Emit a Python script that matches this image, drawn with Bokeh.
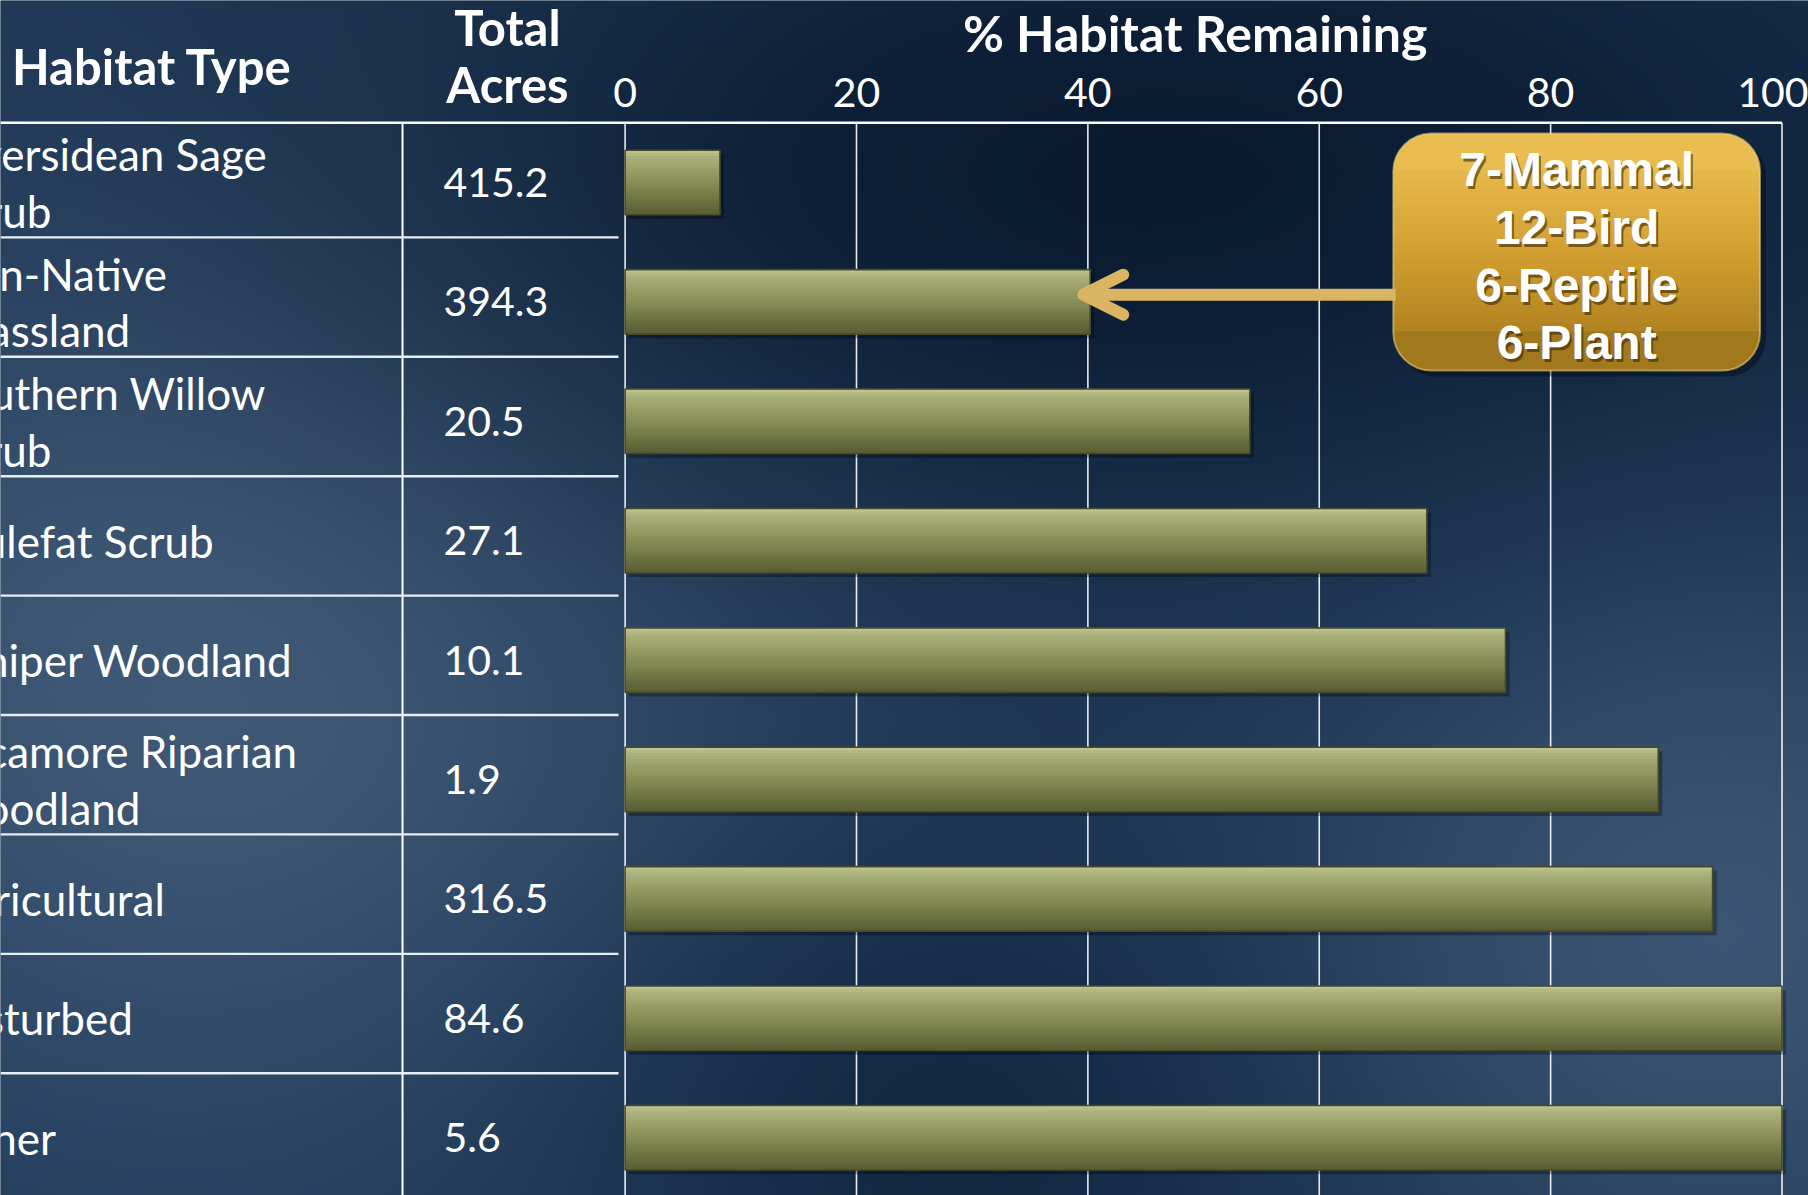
import numpy as np
from bokeh.plotting import figure
from bokeh.models import (ColumnDataSource, Range1d, FixedTicker, BoxAnnotation,
                          Label, Arrow, OpenHead)
from bokeh.core.properties import value
from bokeh.embed import file_html
from bokeh.resources import INLINE

# ---------------- data ----------------
habitats = ["Riversidean Sage\nScrub", "Non-Native\nGrassland", "Southern Willow\nScrub",
            "Mulefat Scrub", "Juniper Woodland", "Sycamore Riparian\nWoodland",
            "Agricultural", "Disturbed", "Other"]
total_acres = [415.2, 394.3, 20.5, 27.1, 10.1, 1.9, 316.5, 84.6, 5.6]
pct_remaining = [8.2, 40.2, 54.0, 69.3, 76.1, 89.3, 94.0, 100.0, 100.0]
x_ticks = [0, 20, 40, 60, 80, 100]
callout_lines = ["7-Mammal", "12-Bird", "6-Reptile", "6-Plant"]
header_habitat = "Habitat Type"
header_acres = ["Total", "Acres"]
axis_title = "% Habitat Remaining"

# ---------------- layout constants ----------------
W, H = 1808, 1195
X0, X1 = -53.99, 102.29
Y0, Y1 = -0.484, 9.524
TOP = 8.5                      # top rule of table / chart
BAR_H = 0.54
BODY_FONT = "Lato"
WHITE = "#ffffff"

n = len(habitats)
ypos = [n - 1 - i for i in range(n)]

p = figure(width=W, height=H, x_range=Range1d(X0, X1), y_range=Range1d(Y0, Y1),
           output_backend="svg", toolbar_location=None,
           x_axis_location="above", y_axis_location=None,
           min_border_left=0, min_border_right=0, min_border_top=0, min_border_bottom=0)
p.outline_line_color = None
p.background_fill_color = "#1b3554"
p.border_fill_color = "#0e223b"
p.xgrid.visible = False
p.ygrid.visible = False

ax = p.xaxis[0]
ax.fixed_location = TOP
ax.ticker = FixedTicker(ticks=x_ticks)
ax.axis_line_color = None
ax.major_tick_line_color = None
ax.minor_tick_line_color = None
ax.major_label_text_color = WHITE
ax.major_label_text_font = BODY_FONT
ax.major_label_text_font_size = "41px"
ax.major_label_standoff = 10

# ---------------- background texture ----------------
GW, GH = 603, 399
xs_ref = (np.arange(GW) + 0.5) * (W / GW)
ys_ref = H - (np.arange(GH) + 0.5) * (H / GH)
XX, YY = np.meshgrid(xs_ref, ys_ref)
col = np.zeros((GH, GW, 3))
col[:] = (27, 53, 84)
blobs = [
    (230, 640, 420, 380, (72, 98, 128), 0.85),
    (1150, 180, 600, 260, (8, 24, 45), 0.9),
    (980, 1120, 280, 200, (12, 33, 58), 0.7),
    (1720, 930, 300, 260, (66, 92, 122), 0.8),
]
for bx, by, sx, sy, c, s in blobs:
    w = s * np.exp(-0.5 * ((XX - bx) / sx) ** 2 - 0.5 * ((YY - by) / sy) ** 2)
    col = col * (1 - w[..., None]) + np.array(c) * w[..., None]
img = np.zeros((GH, GW), dtype=np.uint32)
view = img.view(dtype=np.uint8).reshape((GH, GW, 4))
view[..., :3] = np.clip(col, 0, 255).astype(np.uint8)
view[..., 3] = 255
p.image_rgba(image=[img], x=X0, y=Y0, dw=X1 - X0, dh=Y1 - Y0)

# ---------------- grid & table rules ----------------
p.segment(x0=x_ticks, y0=[TOP] * len(x_ticks), x1=x_ticks, y1=[Y0] * len(x_ticks),
          line_color=WHITE, line_width=1.6, line_alpha=0.9)
p.segment(x0=[X0], y0=[TOP], x1=[100], y1=[TOP], line_color=WHITE, line_width=2.6)
p.segment(x0=[-19.24], y0=[TOP], x1=[-19.24], y1=[Y0], line_color=WHITE, line_width=2)
rule_y = [ypos[i] - 0.46 for i in range(n - 1)]
p.segment(x0=[X0] * len(rule_y), y0=rule_y, x1=[-0.57] * len(rule_y), y1=rule_y,
          line_color="#e8eef5", line_width=2.4)

# ---------------- bars ----------------


def lerp_stops(stops, f):
    for (f0, c0), (f1, c1) in zip(stops[:-1], stops[1:]):
        if f0 <= f <= f1:
            t = (f - f0) / (f1 - f0)
            return "#%02x%02x%02x" % tuple(int(round(a + (b - a) * t)) for a, b in zip(c0, c1))
    return "#%02x%02x%02x" % stops[-1][1]


def bar_source(dy, dx=0.0):
    return ColumnDataSource(dict(y=[v + dy for v in ypos],
                                 right=[v + dx for v in pct_remaining]))


p.hbar(y="y", left=0.3, right="right", height=BAR_H, source=bar_source(-0.035, 0.35),
       fill_color="#000000", fill_alpha=0.3, line_color=None)

bar_stops = [(0.0, (194, 200, 146)), (0.1, (172, 178, 124)), (0.35, (148, 154, 98)),
             (0.6, (126, 132, 78)), (0.82, (104, 110, 62)), (1.0, (88, 93, 51))]
NB = 22
band_h = BAR_H / NB
for k in range(NB):
    top_edge = BAR_H / 2 - k * band_h
    hb = band_h * 1.6 if k < NB - 1 else band_h
    p.hbar(y="y", left=0, right="right", height=hb,
           source=bar_source(top_edge - hb / 2),
           fill_color=lerp_stops(bar_stops, (k + 0.5) / NB), line_color=None)
p.hbar(y="y", left=0, right="right", height=BAR_H, source=bar_source(0.0),
       fill_color=None, line_color="#464a29", line_width=1.6)

# ---------------- table texts ----------------
src = ColumnDataSource(dict(y=ypos, name=habitats,
                            acres=[f"{a:.1f}" for a in total_acres]))
p.text(x=-59.1, y="y", text="name", source=src, text_font=value(BODY_FONT),
       text_font_size="44px", text_color=WHITE, text_baseline="middle",
       text_align="left", text_line_height=1.09)
p.text(x=-15.7, y="y", text="acres", source=src, text_font=value(BODY_FONT),
       text_font_size="41px", text_color=WHITE, text_baseline="middle", text_align="left")

p.text(x=[-53.0], y=[8.972], text=[header_habitat], text_font=value(BODY_FONT),
       text_font_style="bold", text_font_size="49px", text_color=WHITE,
       text_baseline="middle", text_align="left")
p.text(x=[-10.17, -10.17], y=[9.298, 8.821], text=header_acres, text_font=value(BODY_FONT),
       text_font_style="bold", text_font_size="49px", text_color=WHITE,
       text_baseline="middle", text_align="center")
p.text(x=[49.27], y=[9.25], text=[axis_title], text_font=value(BODY_FONT),
       text_font_style="bold", text_font_size="50px", text_color=WHITE,
       text_baseline="middle", text_align="center")

# ---------------- callout ----------------
BL, BR, BT, BB = 66.4, 98.1, 8.41, 6.425
R_PX = 38
Rr = R_PX / 119.4
p.add_layout(BoxAnnotation(left=BL + 0.4, right=BR + 0.5, top=BT - 0.04, bottom=BB - 0.05,
                           fill_color="#000000", fill_alpha=0.35, line_color=None,
                           border_radius=R_PX))
gold_stops = [(0.0, (236, 192, 86)), (0.25, (226, 178, 68)), (0.55, (206, 155, 46)),
              (0.8, (180, 134, 34)), (1.0, (150, 111, 26))]
span = BT - BB


def gold(yv):
    return lerp_stops(gold_stops, min(max((BT - yv) / span, 0.0), 1.0))


p.add_layout(BoxAnnotation(left=BL, right=BR, top=BT, bottom=BT - Rr - 0.01,
                           fill_color=gold(BT - Rr / 2), fill_alpha=1, line_color=None,
                           border_radius=(R_PX, R_PX, 0, 0)))
NM = 18
mid_top, mid_bot = BT - Rr, BB + Rr
mh = (mid_top - mid_bot) / NM
for k in range(NM):
    t = mid_top - k * mh
    p.add_layout(BoxAnnotation(left=BL, right=BR, top=t + 0.006, bottom=t - mh - 0.006,
                               fill_color=gold(t - mh / 2), fill_alpha=1, line_color=None))
p.add_layout(BoxAnnotation(left=BL, right=BR, top=BB + Rr + 0.01, bottom=BB,
                           fill_color=gold(BB + Rr / 2), fill_alpha=1, line_color=None,
                           border_radius=(0, 0, R_PX, R_PX)))
p.add_layout(BoxAnnotation(left=BL, right=BR, top=BT, bottom=BB, fill_alpha=0,
                           line_color="#f3d784", line_alpha=0.55, line_width=2,
                           border_radius=R_PX))

ARROW = "#d8b463"
p.add_layout(Arrow(end=OpenHead(size=40, line_color=ARROW, line_width=12,
                                line_cap="round", line_join="round"),
                   x_start=BL + 0.2, y_start=ypos[1] + 0.06,
                   x_end=39.6, y_end=ypos[1] + 0.06,
                   line_color=ARROW, line_width=12))

cx = (BL + BR) / 2
for k, txt in enumerate(callout_lines):
    yv = 8.105 - k * 0.483
    p.add_layout(Label(x=cx, y=yv, text=txt, x_offset=2, y_offset=-3,
                       text_align="center", text_baseline="middle",
                       text_font="Liberation Sans", text_font_style="bold",
                       text_font_size="48px", text_color="#3a2806", text_alpha=0.6))
    p.add_layout(Label(x=cx, y=yv, text=txt, text_align="center", text_baseline="middle",
                       text_font="Liberation Sans", text_font_style="bold",
                       text_font_size="48px", text_color=WHITE))

open("out.html", "w").write(file_html(p, INLINE))
